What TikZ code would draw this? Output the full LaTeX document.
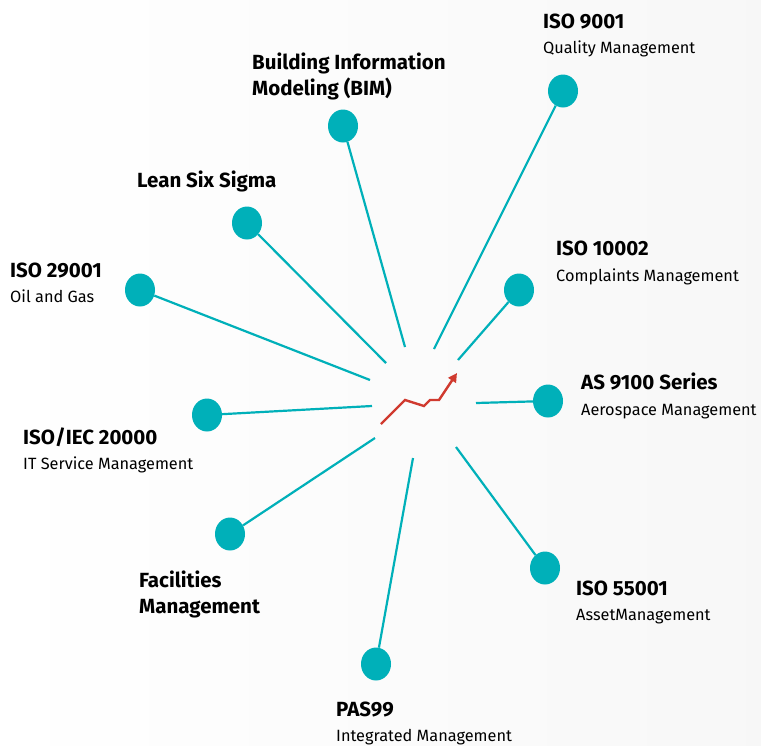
\documentclass[tikz,border=0pt]{standalone}
\usepackage{fontspec}
\setmainfont{Fira Sans}
\definecolor{dotteal}{HTML}{00B0B9}
\definecolor{trendred}{HTML}{D03A2F}
\tikzset{
  dot/.style={ellipse, fill=dotteal, minimum width=30pt, minimum height=33pt, inner sep=0pt},
  spoke/.style={draw=dotteal, line width=2.2pt},
  title/.style={anchor=base west, inner sep=0pt, font=\fontsize{20.5}{24}\selectfont\bfseries},
  sub/.style={anchor=base west, inner sep=0pt, font=\fontsize{16.3}{19}\selectfont}
}
\usetikzlibrary{shapes.geometric,arrows.meta}
\begin{document}
\begin{tikzpicture}[x=1pt,y=-1pt]
  \shade[left color=white, right color=black!3] (0,0) rectangle (761,745);
  \useasboundingbox (0,0) rectangle (761,745);

  % dots
  \node[dot] (d9001) at (563,91) {};
  \node[dot] (dbim) at (343,126) {};
  \node[dot] (dlean) at (247,223) {};
  \node[dot] (d29001) at (140,290) {};
  \node[dot] (d10002) at (519,290) {};
  \node[dot] (das) at (548,401) {};
  \node[dot] (d20000) at (207,415) {};
  \node[dot] (dfac) at (230,534) {};
  \node[dot] (d55001) at (545,568) {};
  \node[dot] (dpas) at (376,664) {};

  % inner ends of the spokes
  \coordinate (c9001) at (434,349);
  \coordinate (cbim) at (405,347);
  \coordinate (clean) at (386,363);
  \coordinate (c29001) at (370,380);
  \coordinate (c10002) at (458,360);
  \coordinate (cas) at (476,403);
  \coordinate (c20000) at (372,406);
  \coordinate (cfac) at (375,438);
  \coordinate (c55001) at (456,447);
  \coordinate (cpas) at (413,458);

  \foreach \n in {9001,bim,lean,29001,10002,as,20000,fac,55001,pas}
    \draw[spoke] (d\n) -- (c\n);

  % trend arrow
  \draw[trendred, line width=2.4pt, -{Triangle[length=9pt,width=9pt]}]
    (381,424) -- (405,400) -- (424,406) -- (430,400) -- (439,400) -- (457,373);

  % labels
  \node[title] at (543,28) {ISO 9001};
  \node[sub] at (543,53) {Quality Management};
  \node[title] at (252,69) {Building Information};
  \node[title] at (252,95) {Modeling (BIM)};
  \node[title] at (137,187) {Lean Six Sigma};
  \node[title] at (10,277) {ISO 29001};
  \node[sub] at (10,302) {Oil and Gas};
  \node[title] at (556,255) {ISO 10002};
  \node[sub] at (556,281) {Complaints Management};
  \node[title] at (581,389) {AS 9100 Series};
  \node[sub] at (581,415) {Aerospace Management};
  \node[title] at (23,444) {ISO/IEC 20000};
  \node[sub] at (23,469) {IT Service Management};
  \node[title] at (139,587) {Facilities};
  \node[title] at (139,613) {Management};
  \node[title] at (576,595) {ISO 55001};
  \node[sub] at (576,620) {AssetManagement};
  \node[title] at (336,716) {PAS99};
  \node[sub] at (336,741) {Integrated Management};
\end{tikzpicture}
\end{document}
